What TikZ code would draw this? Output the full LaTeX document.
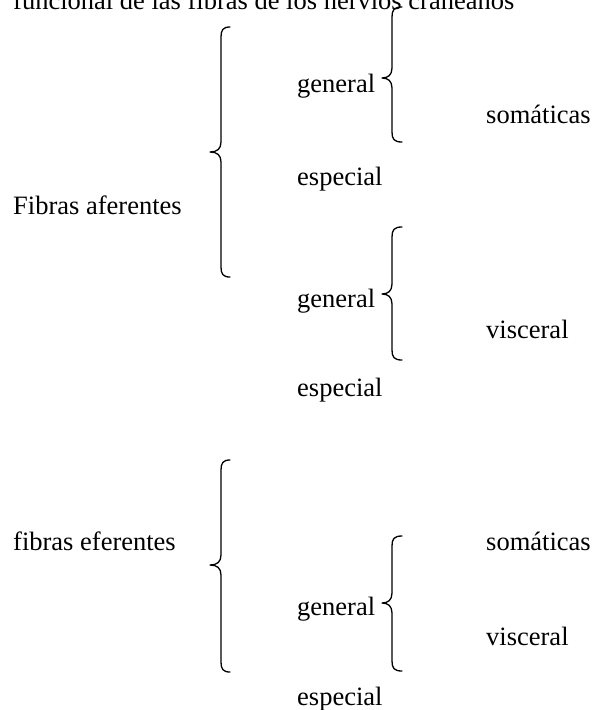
\documentclass[tikz,border=0pt]{standalone}
\usepackage{fontspec}
\setmainfont{Liberation Serif}
\newcommand\mybrace[6]{% xtip xv xend ytop ytip ybot
  \draw[bracestyle] (#3,#4) .. controls (#2+2,#4) and (#2,#4+3) .. (#2,#4+10)
    -- (#2,#5-10) .. controls (#2,#5-3) and (#2-4,#5) .. (#1,#5)
    .. controls (#2-4,#5) and (#2,#5+3) .. (#2,#5+10)
    -- (#2,#6-10) .. controls (#2,#6-3) and (#2+2,#6) .. (#3,#6);}
\tikzset{
  lbl/.style={anchor=base west, inner sep=0pt, font=\fontsize{26.5}{30}\selectfont},
  bracestyle/.style={line width=1.3pt, line cap=round, line join=round}
}
\begin{document}
\begin{tikzpicture}[x=1pt,y=-1pt]
\useasboundingbox (0,0) rectangle (602,710);
\node[lbl] (title) at (13,9) {funcional de las fibras de los nervios craneanos};
% afferent
\node[lbl] (faf) at (13,214) {Fibras aferentes};
\mybrace{210}{221}{230}{27}{152}{277}
\node[lbl] (g1) at (297,92) {general};
\mybrace{382}{392}{402}{7}{78}{142}
\node[lbl] (s1) at (486,123) {somáticas};
\node[lbl] (e1) at (297,185) {especial};
\node[lbl] (g2) at (297,307) {general};
\mybrace{382}{392}{402}{227}{294}{360}
\node[lbl] (v1) at (486,338) {visceral};
\node[lbl] (e2) at (297,396) {especial};
% efferent
\node[lbl] (fef) at (13,550) {fibras eferentes};
\mybrace{210}{221}{230}{460}{565}{672}
\node[lbl] (s2) at (486,550) {somáticas};
\node[lbl] (g3) at (297,615) {general};
\mybrace{382}{392}{402}{536}{603}{671}
\node[lbl] (v2) at (486,645) {visceral};
\node[lbl] (e3) at (297,705) {especial};
\end{tikzpicture}
\end{document}
